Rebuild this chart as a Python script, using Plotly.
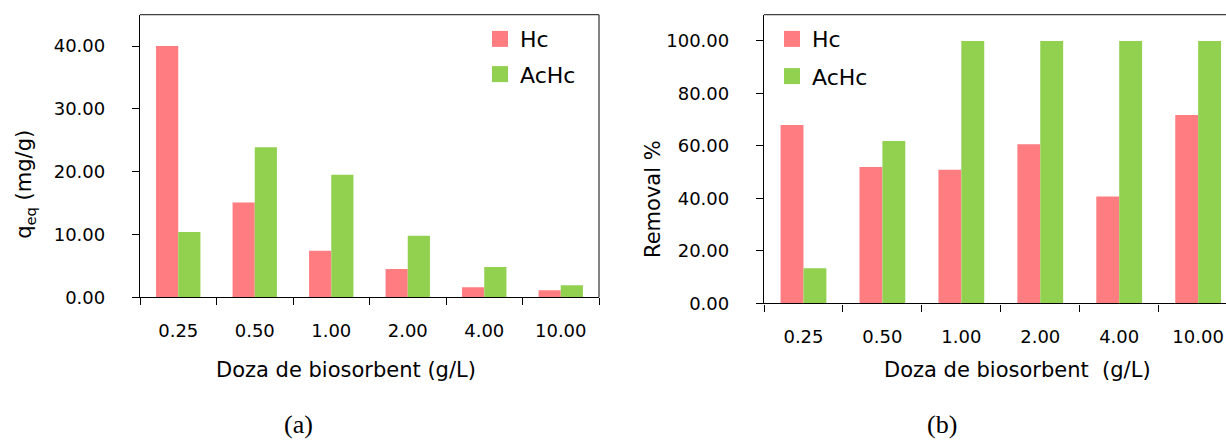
import plotly.graph_objects as go

# Biosorbent dose (g/L) categories
doses = ["0.25", "0.50", "1.00", "2.00", "4.00", "10.00"]

# (a) equilibrium uptake q_eq (mg/g)
qeq_hc = [40.0, 15.1, 7.4, 4.5, 1.6, 1.1]
qeq_achc = [10.4, 23.9, 19.5, 9.8, 4.8, 1.9]

# (b) removal efficiency (%)
removal_hc = [68.0, 52.0, 50.9, 60.6, 40.7, 71.8]
removal_achc = [13.4, 61.9, 100.0, 100.0, 100.0, 100.0]

series_names = ["Hc", "AcHc"]
HC_COLOR = "#FF7C80"
ACHC_COLOR = "#92D050"

W, H = 1226, 448
FONT = "DejaVu Sans"


def px_x(v):
    return v / W


def px_y(v):
    return 1 - v / H


fig = go.Figure()

# Bars, panel (a)
fig.add_trace(go.Bar(x=doses, y=qeq_hc, name=series_names[0], marker_color=HC_COLOR,
                     marker_line_width=0, xaxis="x", yaxis="y", showlegend=False))
fig.add_trace(go.Bar(x=doses, y=qeq_achc, name=series_names[1], marker_color=ACHC_COLOR,
                     marker_line_width=0, xaxis="x", yaxis="y", showlegend=False))
# Bars, panel (b)
fig.add_trace(go.Bar(x=doses, y=removal_hc, name=series_names[0], marker_color=HC_COLOR,
                     marker_line_width=0, xaxis="x2", yaxis="y2", showlegend=False))
fig.add_trace(go.Bar(x=doses, y=removal_achc, name=series_names[1], marker_color=ACHC_COLOR,
                     marker_line_width=0, xaxis="x2", yaxis="y2", showlegend=False))

# Legend entries with square swatches
for leg, xa, ya in (("legend", "x", "y"), ("legend2", "x2", "y2")):
    for name, col in zip(series_names, (HC_COLOR, ACHC_COLOR)):
        fig.add_trace(go.Scatter(x=[None], y=[None], mode="markers", name=name,
                                 marker=dict(symbol="square", size=16, color=col),
                                 xaxis=xa, yaxis=ya, legend=leg, legendgroup=leg + name,
                                 showlegend=True))

xcommon = dict(type="category", tickson="boundaries", ticks="outside", ticklen=7,
               tickwidth=1.3, tickcolor="black", showline=True, linecolor="black",
               linewidth=1.3, showgrid=False, zeroline=False,
               tickfont=dict(family=FONT, size=18, color="black"), ticklabelstandoff=17)
ycommon = dict(ticks="outside", ticklen=7, tickwidth=1.3, tickcolor="black",
               showline=True, linecolor="black", linewidth=1.3, showgrid=False,
               zeroline=False, tickformat=".2f",
               tickfont=dict(family=FONT, size=18, color="black"), ticklabelstandoff=23)

legcommon = dict(font=dict(family=FONT, size=22, color="black"), bgcolor="rgba(0,0,0,0)",
                 xanchor="left", yanchor="top", itemclick=False, itemdoubleclick=False)

fig.update_layout(
    width=W, height=H,
    margin=dict(l=0, r=0, t=0, b=0),
    paper_bgcolor="white", plot_bgcolor="white",
    barmode="group", bargap=0.42, bargroupgap=0,
    font=dict(family=FONT, color="black"),
    xaxis=dict(xcommon, domain=[px_x(140), px_x(599)], range=[-0.5, 5.5], anchor="y"),
    yaxis=dict(ycommon, domain=[px_y(304), px_y(15)], range=[0, 45], dtick=10, anchor="x"),
    xaxis2=dict(xcommon, domain=[px_x(764), 1.0], range=[-0.5, 5.353], anchor="y2"),
    yaxis2=dict(ycommon, domain=[px_y(310.3), px_y(15)], range=[0, 110], dtick=20, anchor="x2"),
    legend=dict(legcommon, x=px_x(480), y=px_y(18.5), tracegroupgap=3.6),
    legend2=dict(legcommon, x=px_x(772), y=px_y(18.5), tracegroupgap=5.6),
)

# Plot-area frame: top and right edges in dark grey
frame = dict(color="#404040", width=1.3)
fig.add_shape(type="line", xref="x domain", yref="y domain", x0=0, x1=1, y0=1, y1=1, line=frame)
fig.add_shape(type="line", xref="x domain", yref="y domain", x0=1, x1=1, y0=0, y1=1, line=frame)
fig.add_shape(type="line", xref="x2 domain", yref="y2 domain", x0=0, x1=1, y0=1, y1=1, line=frame)

# Axis titles and panel labels
title_font = dict(family=FONT, size=21, color="black")
fig.add_annotation(text="Doza de biosorbent (g/L)", x=px_x(346), y=px_y(378), xref="paper",
                   yref="paper", showarrow=False, font=title_font, xanchor="center", yanchor="middle")
fig.add_annotation(text="Doza de biosorbent  (g/L)", x=px_x(1017), y=px_y(378), xref="paper",
                   yref="paper", showarrow=False, font=title_font, xanchor="center", yanchor="middle")
fig.add_annotation(text="q<sub>eq</sub> (mg/g)", x=px_x(25), y=px_y(189), xref="paper",
                   yref="paper", showarrow=False, textangle=-90,
                   font=dict(family=FONT, size=21, color="black"),
                   xanchor="center", yanchor="middle")
fig.add_annotation(text="Removal %", x=px_x(653), y=px_y(203.5), xref="paper",
                   yref="paper", showarrow=False, textangle=-90,
                   font=dict(family=FONT, size=21, color="black"),
                   xanchor="center", yanchor="middle")
panel_font = dict(family="Liberation Serif", size=26, color="black")
fig.add_annotation(text="(a)", x=px_x(298), y=px_y(434), xref="paper", yref="paper",
                   showarrow=False, font=panel_font, xanchor="center", yanchor="middle")
fig.add_annotation(text="(b)", x=px_x(942), y=px_y(434), xref="paper", yref="paper",
                   showarrow=False, font=panel_font, xanchor="center", yanchor="middle")

fig.write_html("out.html")
